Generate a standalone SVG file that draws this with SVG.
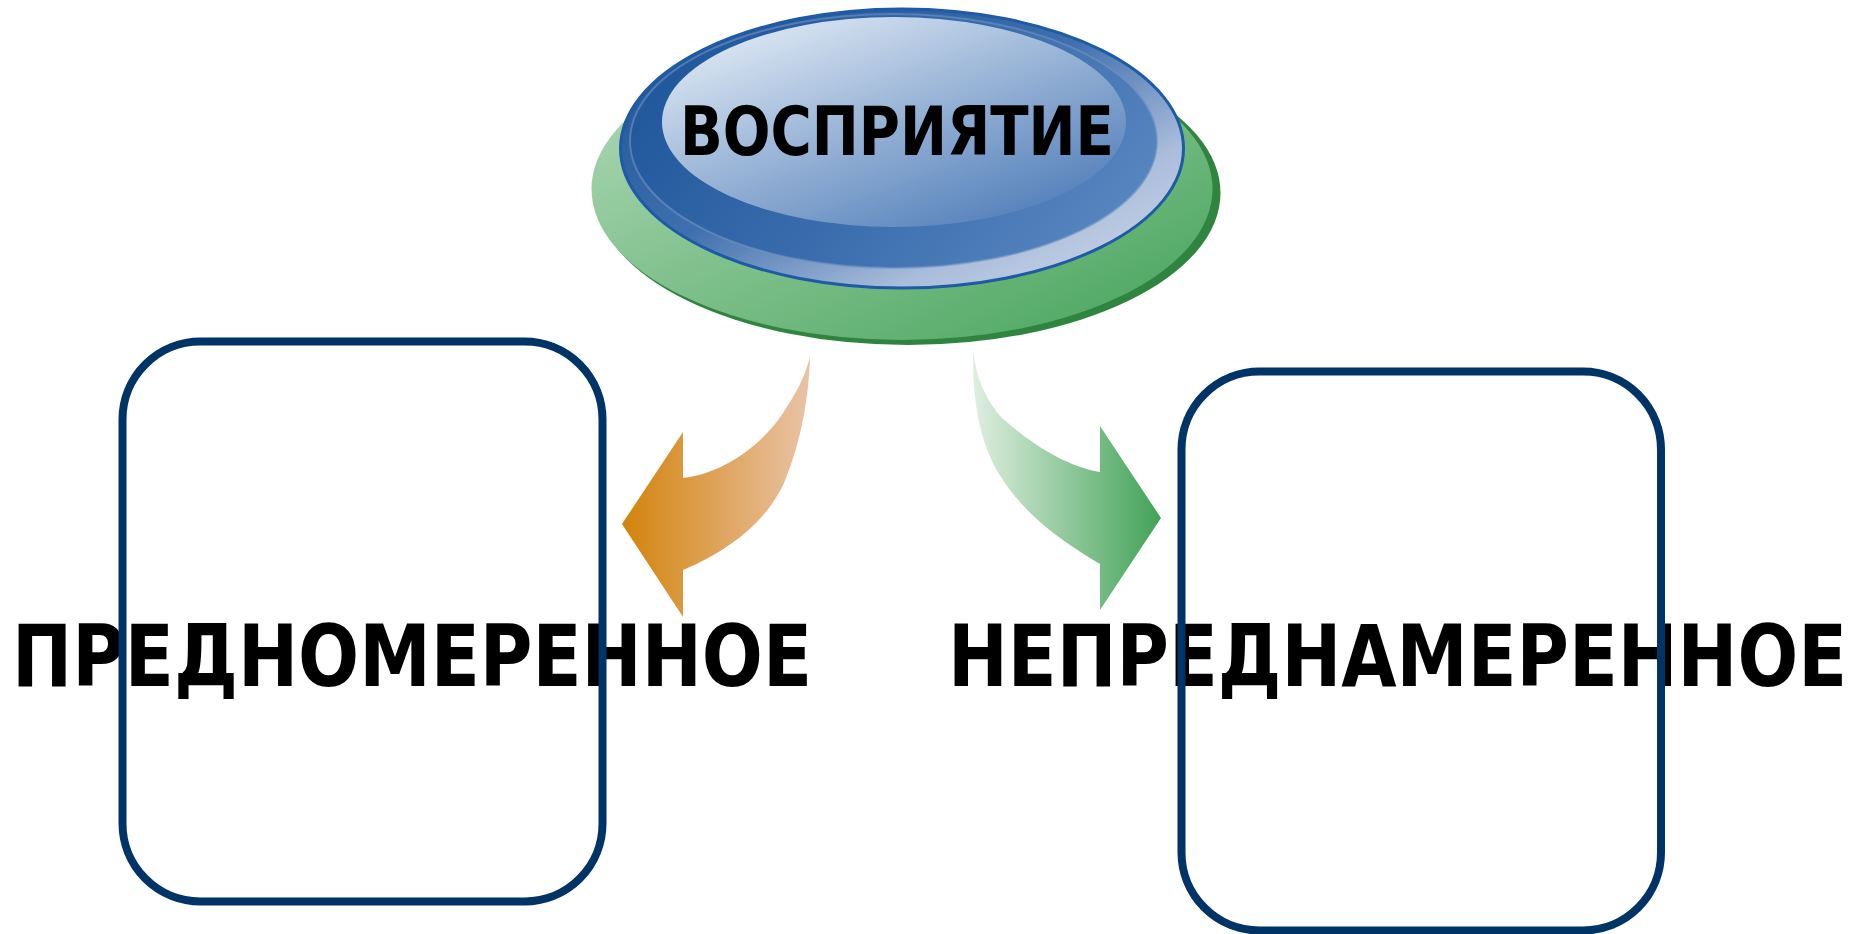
<svg xmlns="http://www.w3.org/2000/svg" width="1858" height="934" viewBox="0 0 1858 934">
<defs>
<style>
.box{fill:none;stroke:#003366;stroke-width:8}
.lbl{font-family:"DejaVu Sans","Liberation Sans",sans-serif;font-weight:bold;fill:#000}
</style>
<linearGradient id="gGreen" x1="0" y1="0" x2="1" y2="1">
<stop offset="0" stop-color="#b6dbbd"/>
<stop offset="0.5" stop-color="#7dbf8a"/>
<stop offset="1" stop-color="#45a35b"/>
</linearGradient>
<linearGradient id="gOuter" x1="0.1" y1="0.1" x2="0.9" y2="0.9">
<stop offset="0" stop-color="#1f5699"/>
<stop offset="0.45" stop-color="#3f6fae"/>
<stop offset="0.8" stop-color="#a9bcda"/>
<stop offset="1" stop-color="#c3d0e5"/>
</linearGradient>
<linearGradient id="gMid" x1="0" y1="0.3" x2="1" y2="0.7">
<stop offset="0" stop-color="#1f579b"/>
<stop offset="0.5" stop-color="#3a6cad"/>
<stop offset="1" stop-color="#5886c0"/>
</linearGradient>
<linearGradient id="gInner" x1="0.1" y1="0" x2="0.9" y2="1">
<stop offset="0" stop-color="#e6eef8"/>
<stop offset="0.45" stop-color="#9db7d8"/>
<stop offset="1" stop-color="#4878b6"/>
</linearGradient>
<linearGradient id="gOrange" x1="0" y1="0" x2="1" y2="0">
<stop offset="0" stop-color="#d3830b"/>
<stop offset="1" stop-color="#e9c3a8"/>
</linearGradient>
<linearGradient id="gArrowGreen" x1="0" y1="0" x2="1" y2="0">
<stop offset="0" stop-color="#e0eee1"/>
<stop offset="1" stop-color="#41a257"/>
</linearGradient>
</defs>
<rect width="1858" height="934" fill="#fff"/>

<g id="node-perception">
<ellipse cx="908" cy="193" rx="312.5" ry="152" fill="#2f8440"/>
<ellipse cx="902" cy="189" rx="310.5" ry="151" fill="url(#gGreen)"/>
<ellipse cx="902" cy="148.5" rx="281.5" ry="139.5" fill="url(#gOuter)" stroke="#1e5aa5" stroke-width="3"/>
<ellipse cx="893.5" cy="141" rx="263.5" ry="127" fill="url(#gMid)" stroke="#6f93c2" stroke-opacity="0.6" stroke-width="2"/>
<ellipse cx="894" cy="122" rx="232" ry="105" fill="url(#gInner)"/>
<text class="lbl" x="680" y="155" font-size="67" textLength="434" lengthAdjust="spacingAndGlyphs">ВОСПРИЯТИЕ</text>
</g>

<g id="connectors">
<path d="M810,356 C809,395 802,440 784,483 C768,518 735,548 683,570 L683,617 L622,524 L683,432 L683,478 C720,474 760,448 783,413 C795,395 805,378 810,356 Z" fill="url(#gOrange)"/>
<path d="M973,350 C972,400 980,445 1001,477 C1025,515 1060,540 1100,564 L1100,610 L1161,518 L1100,426 L1100,472 C1065,466 1030,443 1001,417 C986,400 976,378 973,350 Z" fill="url(#gArrowGreen)"/>
</g>

<g id="node-intentional">
<text class="lbl" x="12" y="686" font-size="86" textLength="800" lengthAdjust="spacingAndGlyphs">ПРЕДНОМЕРЕННОЕ</text>
<rect class="box" x="122.5" y="341.5" width="480" height="560" rx="78" ry="78"/>
</g>

<g id="node-unintentional">
<text class="lbl" x="948" y="686" font-size="86" textLength="899" lengthAdjust="spacingAndGlyphs">НЕПРЕДНАМЕРЕННОЕ</text>
<rect class="box" x="1181.5" y="371.5" width="479.5" height="559" rx="78" ry="78"/>
</g>
</svg>
